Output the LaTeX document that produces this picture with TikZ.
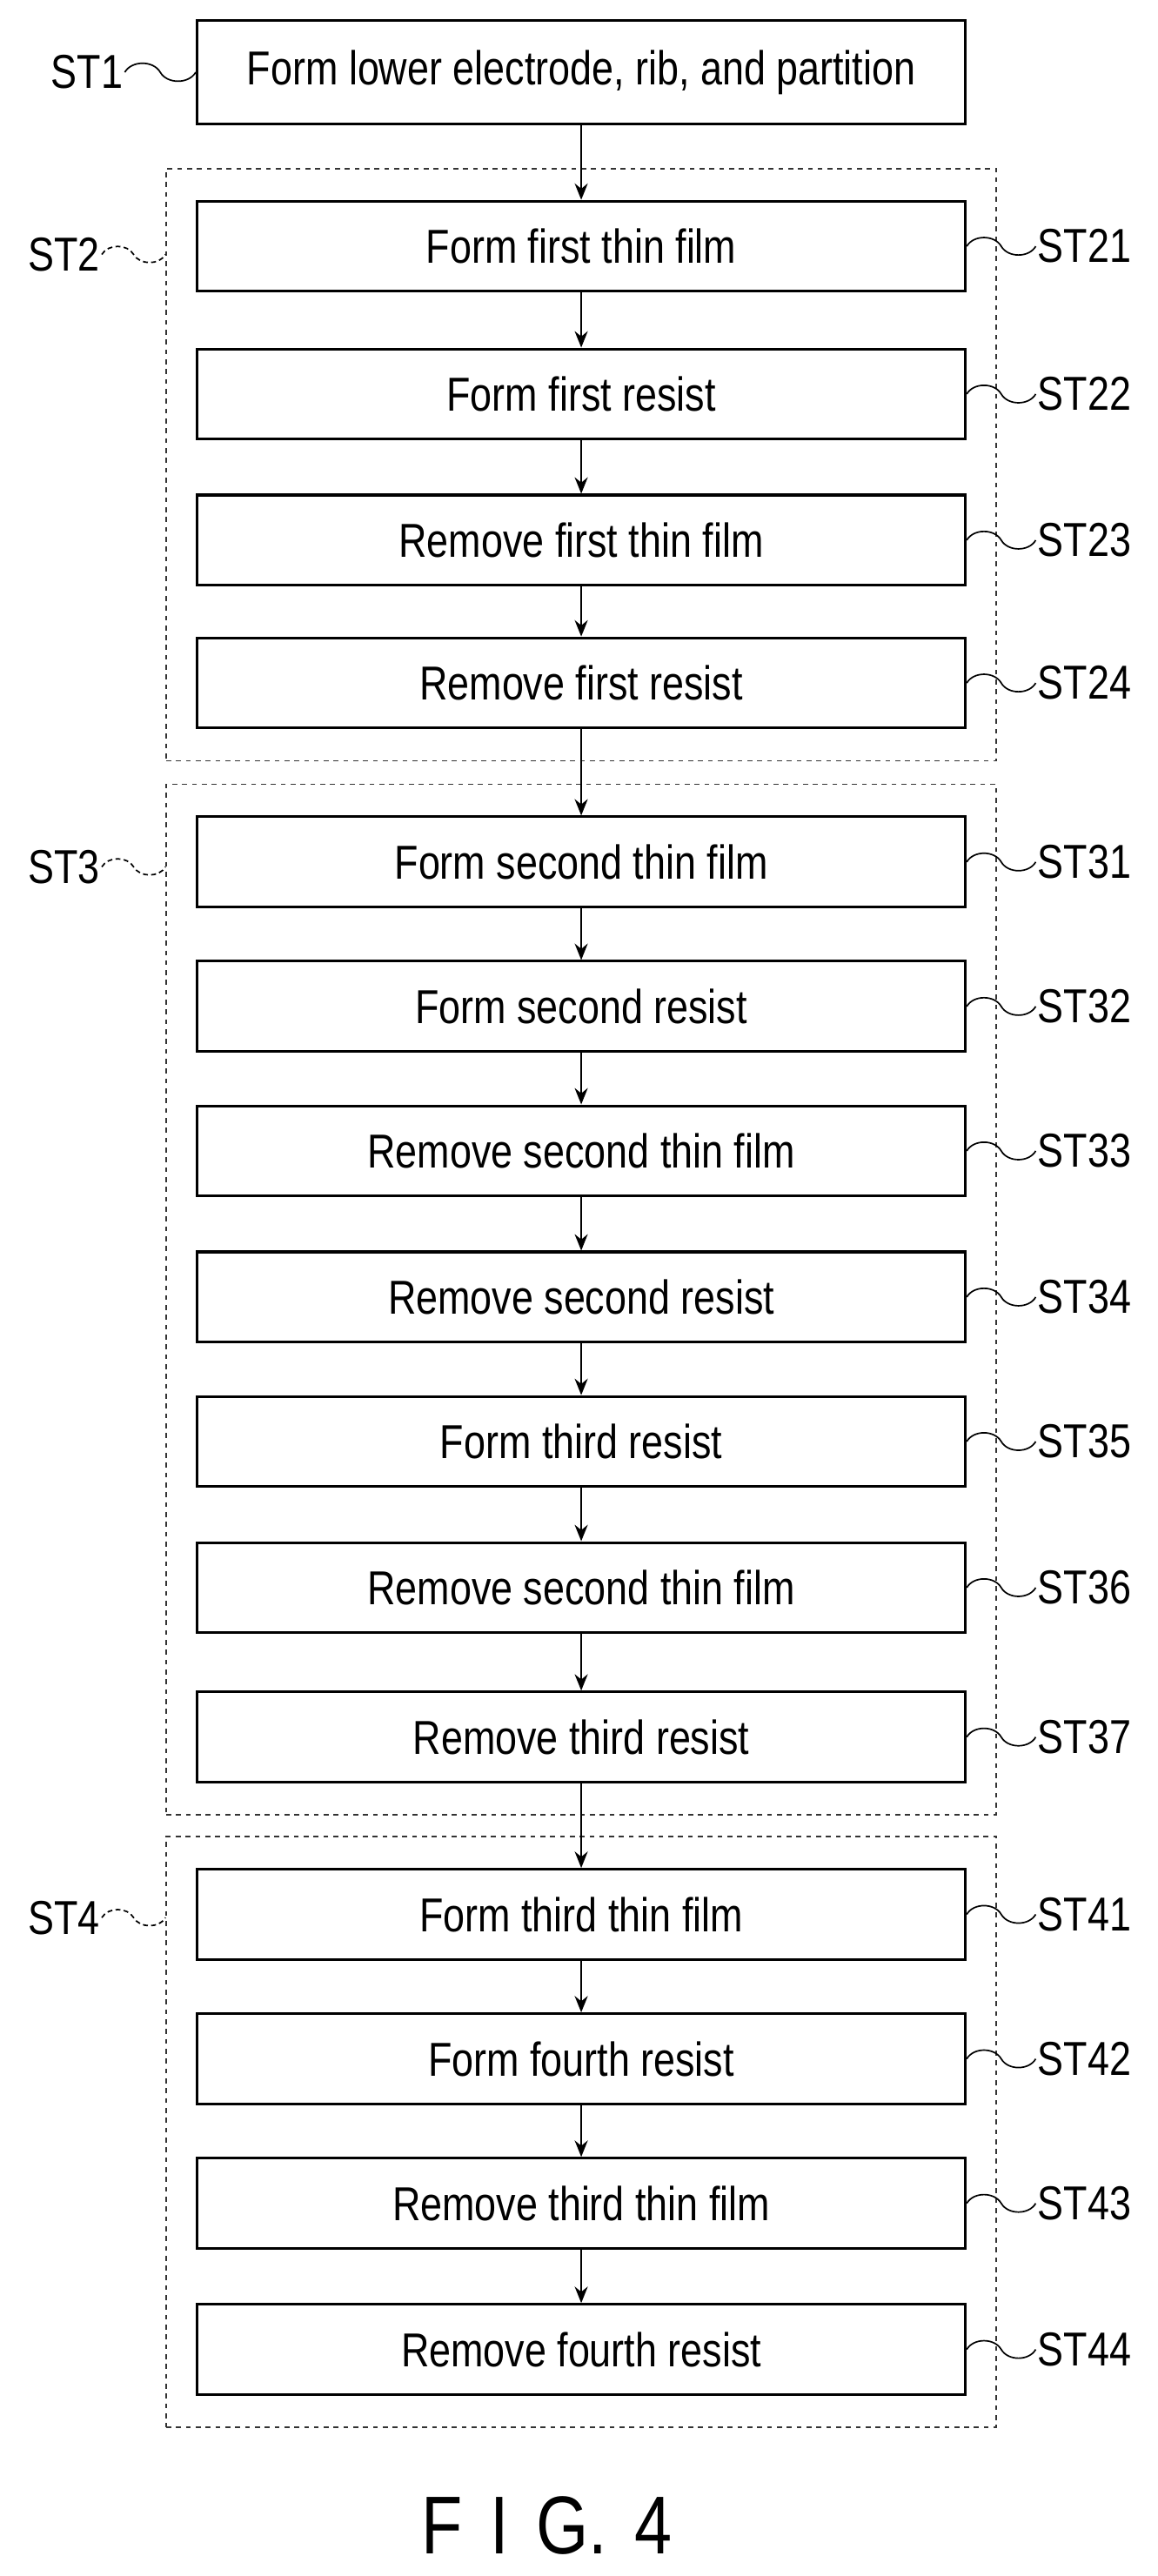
\documentclass[tikz,border=0pt]{standalone}
\usepackage{fontspec}
\setmainfont{Liberation Sans}[FakeStretch=0.82]
\usetikzlibrary{arrows.meta,positioning,fit,calc}

\begin{document}
\begin{tikzpicture}
	[
	 %Styles
	 x=1pt,y=-1pt,
	 font=\fontsize{29}{32}\selectfont,
	 step_node/.style={rectangle,draw=black,line width=1.6pt,minimum width=468pt,minimum height=55pt,inner sep=0pt},
	 group_node/.style={rectangle,draw=black!80,dashed,line width=0.8pt,inner xsep=18pt,inner ysep=19pt},
	 label_simple/.style={rectangle,inner sep=1pt},
	 flow/.style={-{Stealth[length=10pt,width=8pt]},line width=0.9pt},
	 squig/.style={line width=0.9pt},
	 squig_d/.style={line width=0.9pt,dashed,dash pattern=on 3pt off 2pt}
	]
	\useasboundingbox (0,0) rectangle (705,1569);

	%Step boxes
	\node (st1) [step_node,minimum height=63pt] at (354,44) {Form lower electrode, rib, and partition};
	\foreach \name/\y/\txt in {
	    st21/150/Form first thin film, st22/240/Form first resist,
	    st23/329/Remove first thin film, st24/416/Remove first resist,
	    st31/525/Form second thin film, st32/613/Form second resist,
	    st33/701/Remove second thin film, st34/790/Remove second resist,
	    st35/878/Form third resist, st36/967/Remove second thin film,
	    st37/1058/Remove third resist,
	    st41/1166/Form third thin film, st42/1254/Form fourth resist,
	    st43/1342/Remove third thin film, st44/1431/Remove fourth resist}
	  \node (\name) [step_node] at (354,\y) {\txt};

	%Groups
	\node (g2) [group_node,fit=(st21)(st24)] {};
	\node (g3) [group_node,fit=(st31)(st37)] {};
	\node (g4) [group_node,fit=(st41)(st44)] {};

	%Labels
	\node (l1) [label_simple,anchor=east] at (76,44) {ST1};
	\node (l2) [label_simple,anchor=east] at (62,155) {ST2};
	\node (l3) [label_simple,anchor=east] at (62,528) {ST3};
	\node (l4) [label_simple,anchor=east] at (62,1168) {ST4};
	\foreach \n in {21,22,23,24,31,32,33,34,35,36,37,41,42,43,44}
	  \node (l\n) [label_simple,anchor=west] at ([xshift=42pt]st\n.east) {ST\n};

	%Squiggles
	\draw[squig] (l1.east) to[out=60,in=120] ($(l1.east)!0.5!(st1.west)$) to[out=-60,in=-120] (st1.west);
	\foreach \g/\l in {g2/l2,g3/l3,g4/l4}
	  \draw[squig_d] (\l.east) to[out=60,in=120] ($(\l.east)!0.5!(\l.east-|\g.west)$) to[out=-60,in=-120] (\l.east-|\g.west);
	\foreach \n in {21,22,23,24,31,32,33,34,35,36,37,41,42,43,44}
	  \draw[squig] (st\n.east) to[out=60,in=120] ($(st\n.east)!0.5!(l\n.west)$) to[out=-60,in=-120] (l\n.west);

	%Edges
	\foreach \a/\b in {st1/st21,st21/st22,st22/st23,st23/st24,st24/st31,
	    st31/st32,st32/st33,st33/st34,st34/st35,st35/st36,st36/st37,st37/st41,
	    st41/st42,st42/st43,st43/st44}
	  \draw[flow] (\a) -- (\b);

	%Caption
	\node (fig) [font=\fontsize{50}{54}\selectfont] at (333,1538) {F\,\,I\,\,G.\,\,4};
\end{tikzpicture}
\end{document}
